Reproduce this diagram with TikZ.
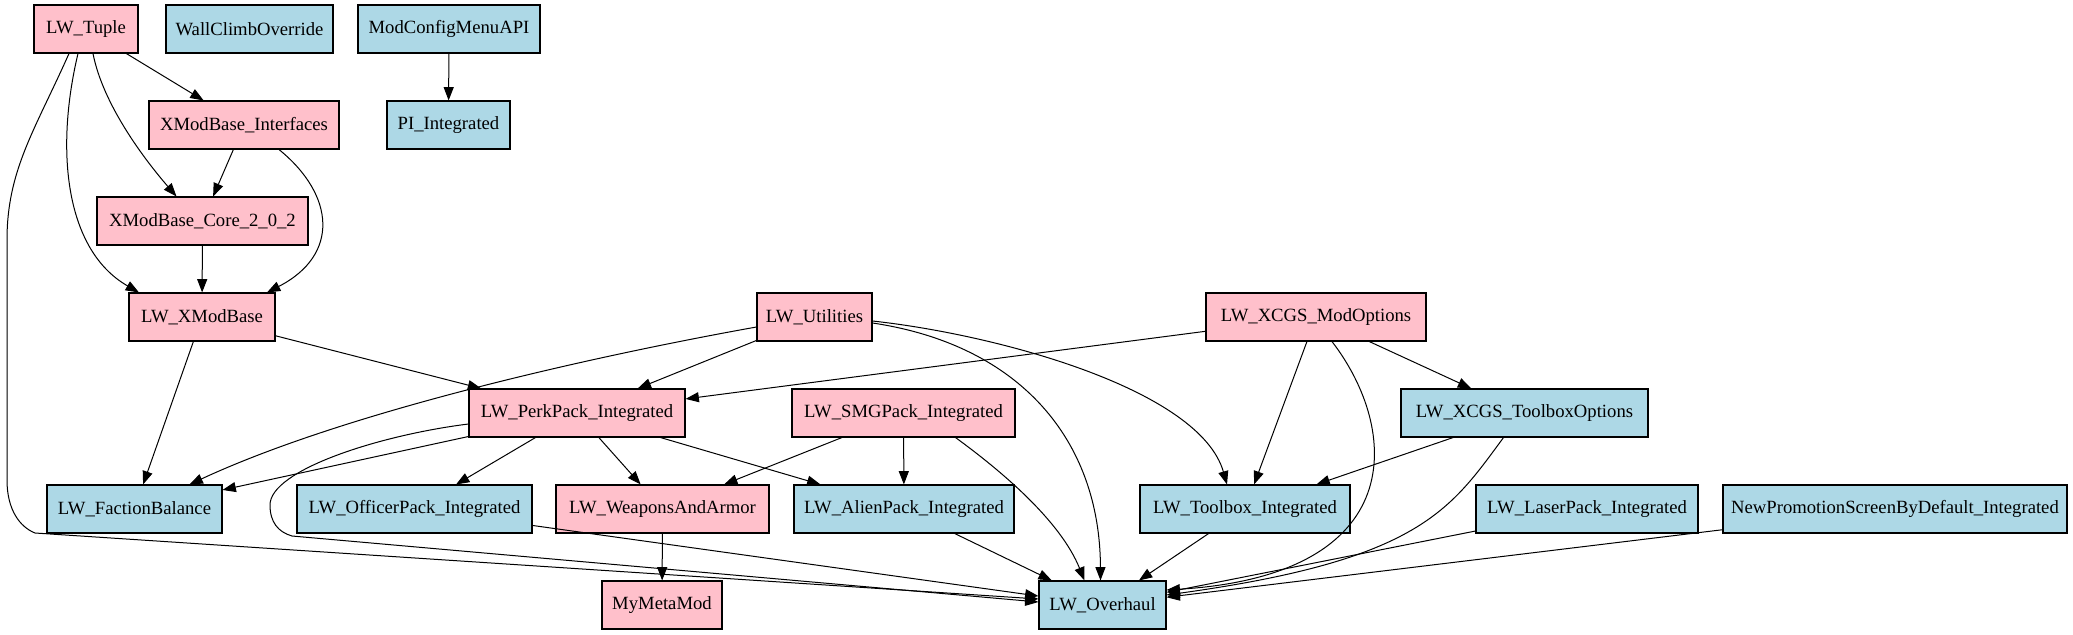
\documentclass[tikz,border=0pt]{standalone}
\usepackage{fontspec}
\setmainfont{Liberation Serif}
\usetikzlibrary{arrows.meta,calc}
\definecolor{pinkf}{RGB}{255,192,203}
\definecolor{bluef}{RGB}{173,216,230}
\begin{document}
\begin{tikzpicture}[x=0.75pt,y=-0.75pt,
 box/.style={draw=black, line width=0.8pt, rectangle, minimum height=36pt, inner sep=0pt, font=\fontsize{14}{16}\selectfont},
 pk/.style={box, fill=pinkf},
 bl/.style={box, fill=bluef},
 bw/.style={minimum width=#1*0.75pt},
 edge/.style={draw=black, line width=0.75pt, -{Triangle[length=10pt,width=7.5pt]}}]
\useasboundingbox (0,0) rectangle (2073,635);

% nodes
\node[pk, bw=104] (tuple) at (86,29) {LW\_Tuple};
\node[bl, bw=167] (wall) at (249.5,29) {WallClimbOverride};
\node[bl, bw=182] (mcm) at (449,29) {ModConfigMenuAPI};
\node[pk, bw=190] (xint) at (244,125) {XModBase\_Interfaces};
\node[bl, bw=123] (pii) at (448.5,125) {PI\_Integrated};
\node[pk, bw=211] (xcore) at (202.5,221) {XModBase\_Core\_2\_0\_2};
\node[pk, bw=146] (xmb) at (202,317) {LW\_XModBase};
\node[pk, bw=115] (util) at (814.5,317) {LW\_Utilities};
\node[pk, bw=220] (mopt) at (1316,317) {LW\_XCGS\_ModOptions};
\node[pk, bw=216] (perk) at (577,413) {LW\_PerkPack\_Integrated};
\node[pk, bw=223] (smg) at (903.5,413) {LW\_SMGPack\_Integrated};
\node[bl, bw=247] (tbo) at (1524.5,413) {LW\_XCGS\_ToolboxOptions};
\node[bl, bw=175] (fac) at (134.5,509) {LW\_FactionBalance};
\node[bl, bw=235] (off) at (414.5,509) {LW\_OfficerPack\_Integrated};
\node[pk, bw=213] (wep) at (662.5,509) {LW\_WeaponsAndArmor};
\node[bl, bw=220] (ali) at (904,509) {LW\_AlienPack\_Integrated};
\node[bl, bw=210] (tb) at (1245,509) {LW\_Toolbox\_Integrated};
\node[bl, bw=222] (las) at (1587,509) {LW\_LaserPack\_Integrated};
\node[bl, bw=344] (npr) at (1895,509) {NewPromotionScreenByDefault\_Integrated};
\node[pk, bw=120] (meta) at (662,605) {MyMetaMod};
\node[bl, bw=127] (ovh) at (1102.5,605) {LW\_Overhaul};

% straight edges
\draw[edge] (tuple) -- (xint);
\draw[edge] (mcm) -- (pii);
\draw[edge] (xint) -- (xcore);
\draw[edge] (xcore) -- (xmb);
\draw[edge] (xmb) -- (perk);
\draw[edge] (xmb) -- (fac);
\draw[edge] (util) -- (perk);
\draw[edge] (mopt) -- (perk);
\draw[edge] (mopt) -- (tb);
\draw[edge] (mopt) -- (tbo);
\draw[edge] (perk) -- (fac);
\draw[edge] (perk) -- (off);
\draw[edge] (perk) -- (wep);
\draw[edge] (perk) -- (ali);
\draw[edge] (smg) -- (wep);
\draw[edge] (smg) -- (ali);
\draw[edge] (tbo) -- (tb);
\draw[edge] (wep) -- (meta);
\draw[edge] (ali) -- (ovh);
\draw[edge] (tb) -- (ovh);
\draw[edge] (off) -- (ovh);
\draw[edge] (las) -- (ovh);
\draw[edge] (npr) -- (ovh);

% curved edges
\draw[edge] ($(tuple.south)+(7,0)$) .. controls (103,105) and (145,160) .. ($(xcore.north)+(-26,0)$);
\draw[edge] ($(tuple.south)+(-8,0)$) .. controls (55,150) and (65,250) .. ($(xmb.north)+(-63,0)$);
\draw[edge] ($(tuple.south)+(-17,0)$) .. controls (35,130) and (7,170) .. (7,240) -- (7,480) .. controls (7,510) and (20,527) .. (35,533) -- ($(ovh.west)+(0,-6)$);
\draw[edge] ($(xint.south)+(35,0)$) .. controls (335,195) and (340,255) .. ($(xmb.north)+(65,0)$);
\draw[edge] ($(util.west)+(0,10)$) .. controls (600,355) and (350,410) .. ($(fac.north)+(55,0)$);
\draw[edge] ($(util.east)+(0,6)$) .. controls (1020,345) and (1100,440) .. ($(ovh.north)+(-2,0)$);
\draw[edge] ($(util.east)+(0,4)$) .. controls (1000,335) and (1200,390) .. ($(tb.north)+(-18,0)$);
\draw[edge] ($(mopt.south)+(16,0)$) .. controls (1400,430) and (1410,575) .. ($(ovh.east)+(0,-15)$);
\draw[edge] ($(perk.west)+(0,11)$) .. controls (380,435) and (270,470) .. (270,505) .. controls (270,522) and (278,532) .. (292,536) -- ($(ovh.west)+(0,-3)$);
\draw[edge] ($(smg.south)+(52,0)$) .. controls (1000,470) and (1060,520) .. ($(ovh.north)+(-18,0)$);
\draw[edge] ($(tbo.south)+(-21,0)$) .. controls (1450,510) and (1420,560) .. ($(ovh.east)+(0,-10)$);
\end{tikzpicture}
\end{document}
